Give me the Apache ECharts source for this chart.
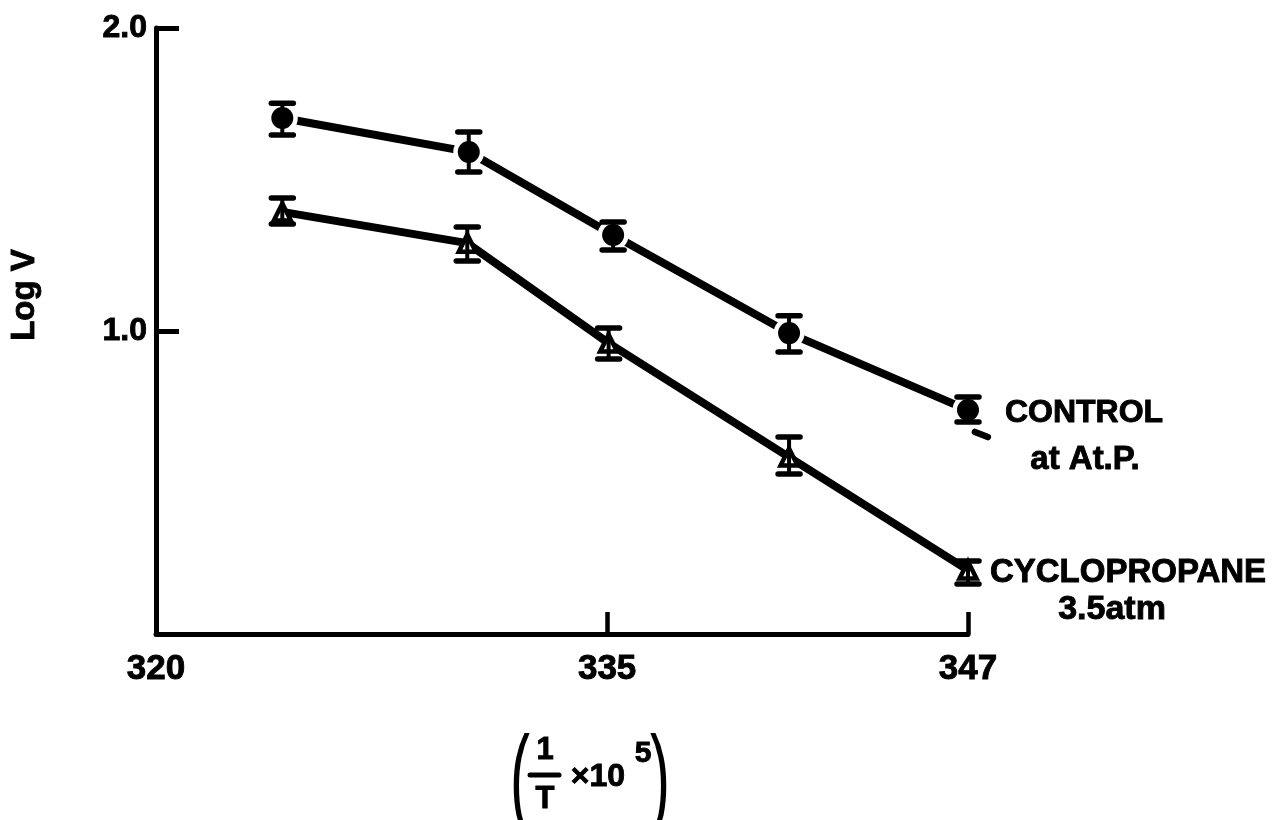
<!DOCTYPE html>
<html>
<head>
<meta charset="utf-8">
<script src="https://cdn.jsdelivr.net/npm/echarts@6/dist/echarts.min.js"></script>
<style>
html,body{margin:0;padding:0;background:#fff;}
#chart{width:1278px;height:820px;}
</style>
</head>
<body>
<div id="chart"></div>
<script>
// ---- data ----
const xTickLabels = [320, 335, 347];
const yTickLabels = [1.0, 2.0];

const controlX    = [324.2, 330.4, 335.2, 341.05, 347.0];
const controlLogV = [1.703, 1.591, 1.317, 0.993, 0.739];
const controlLow  = [1.647, 1.525, 1.267, 0.931, 0.700];
const controlHigh = [1.752, 1.657, 1.360, 1.050, 0.782];

const cycloX    = [324.2, 330.35, 335.05, 341.05, 347.0];
const cycloLogV = [1.393, 1.290, 0.960, 0.584, 0.211];
const cycloLow  = [1.353, 1.231, 0.908, 0.528, 0.165];
const cycloHigh = [1.439, 1.343, 1.010, 0.650, 0.241];

// short stray dash below the last control point
const controlTailX = [347.23, 347.66];
const controlTailY = [0.667, 0.650];

const FONT = "'Liberation Sans', Arial, sans-serif";

function pairs(xs, ys) { return xs.map((x, i) => [x, ys[i]]); }
function errData(xs, lo, hi) { return xs.map((x, i) => [x, lo[i], hi[i]]); }

function renderErr(params, api) {
  const x = api.value(0);
  const p1 = api.coord([x, api.value(1)]);
  const p2 = api.coord([x, api.value(2)]);
  const hw = 11;
  const st = {stroke: '#000', lineWidth: 4, lineCap: 'round'};
  const cs = {stroke: '#000', lineWidth: 5.5, lineCap: 'round'};
  return {
    type: 'group',
    children: [
      {type: 'line', shape: {x1: p1[0], y1: p1[1], x2: p2[0], y2: p2[1]}, style: st},
      {type: 'line', shape: {x1: p1[0] - hw, y1: p1[1], x2: p1[0] + hw, y2: p1[1]}, style: cs},
      {type: 'line', shape: {x1: p2[0] - hw, y1: p2[1], x2: p2[0] + hw, y2: p2[1]}, style: cs}
    ]
  };
}

function renderSeg(params, api) {
  if (params.dataIndex !== 0) return null;
  const a = api.coord([controlTailX[0], controlTailY[0]]);
  const b = api.coord([controlTailX[1], controlTailY[1]]);
  return {type: 'line', shape: {x1: a[0], y1: a[1], x2: b[0], y2: b[1]},
          style: {stroke: '#000', lineWidth: 6.5, lineCap: 'round'}};
}

const chart = echarts.init(document.getElementById('chart'), null, {renderer: 'canvas'});

const txt = (x, y, text, size, extra) => Object.assign({type: 'text', x: x, y: y,
  style: {text: text, font: 'bold ' + size + 'px ' + FONT, fill: '#000', stroke: '#000', lineWidth: 0.9,
          align: 'center', verticalAlign: 'middle'}}, extra || {});

const option = {
  backgroundColor: '#fff',
  animation: false,
  grid: {left: 156, right: 310, top: 28, bottom: 186, containLabel: false},
  xAxis: {
    type: 'value', min: 320, max: 347,
    axisLine: {show: true, lineStyle: {color: '#000', width: 5}},
    axisTick: {show: true, inside: true, length: 22, customValues: [335, 347],
               lineStyle: {color: '#000', width: 4.5}},
    axisLabel: {customValues: xTickLabels, margin: 18, color: '#000',
                fontFamily: FONT, fontWeight: 'bold', fontSize: 35,
                textBorderColor: '#000', textBorderWidth: 0.9,
                formatter: v => String(v)},
    splitLine: {show: false}
  },
  yAxis: {
    type: 'value', min: 0, max: 2,
    axisLine: {show: true, lineStyle: {color: '#000', width: 5}},
    axisTick: {show: true, inside: true, length: 23, customValues: yTickLabels,
               lineStyle: {color: '#000', width: 5}},
    axisLabel: {customValues: yTickLabels, margin: 9, color: '#000',
                fontFamily: FONT, fontWeight: 'bold', fontSize: 32,
                textBorderColor: '#000', textBorderWidth: 0.9,
                formatter: v => v.toFixed(1)},
    splitLine: {show: false}
  },
  series: [
    {type: 'line', name: 'CONTROL', data: pairs(controlX, controlLogV), showSymbol: false,
     clip: false, z: 2, lineStyle: {color: '#000', width: 8, cap: 'round', opacity: 1}},
    {type: 'line', name: 'CYCLOPROPANE', data: pairs(cycloX, cycloLogV), showSymbol: false,
     clip: false, z: 2, lineStyle: {color: '#000', width: 8, cap: 'round', opacity: 1}},
    {type: 'custom', name: 'tail', data: [[controlTailX[0], controlTailY[0]]],
     renderItem: renderSeg, clip: false, z: 2, encode: {x: 0, y: 1}},
    {type: 'scatter', name: 'halo', data: pairs(controlX, controlLogV), symbol: 'circle',
     symbolSize: 31, clip: false, z: 3, itemStyle: {color: '#fff', opacity: 1}},
    {type: 'scatter', name: 'controlPts', data: pairs(controlX, controlLogV), symbol: 'circle',
     symbolSize: 22, clip: false, z: 4, itemStyle: {color: '#000', opacity: 1}},
    {type: 'scatter', name: 'cycloPts', data: pairs(cycloX, cycloLogV), symbol: 'triangle',
     symbolSize: 17, clip: false, z: 4,
     itemStyle: {color: '#fff', borderColor: '#000', borderWidth: 4.5, opacity: 1}},
    {type: 'custom', name: 'controlErr', data: errData(controlX, controlLow, controlHigh),
     renderItem: renderErr, clip: false, z: 5, encode: {x: 0, y: [1, 2]}},
    {type: 'custom', name: 'cycloErr', data: errData(cycloX, cycloLow, cycloHigh),
     renderItem: renderErr, clip: false, z: 5, encode: {x: 0, y: [1, 2]}}
  ],
  graphic: [
    txt(25, 295, 'Log V', 33, {rotation: Math.PI / 2}),
    txt(1084, 413, 'CONTROL', 32),
    txt(1085, 460, 'at At.P.', 33),
    txt(1128, 573, 'CYCLOPROPANE', 33),
    txt(1112, 610, '3.5atm', 34),
    // x-axis name: (1/T x10^5)
    {type: 'text', x: 520, y: 784, scaleY: 1.9,
     style: {text: '(', font: '60px ' + FONT, fill: '#000', align: 'center', verticalAlign: 'middle'}},
    txt(545, 750, '1', 31),
    {type: 'line', shape: {x1: 530, y1: 775, x2: 559, y2: 775},
     style: {stroke: '#000', lineWidth: 5, lineCap: 'round'}},
    txt(545, 799, 'T', 31),
    txt(598, 777, '×10', 32),
    txt(643, 754, '5', 30),
    {type: 'text', x: 660, y: 784, scaleY: 1.9,
     style: {text: ')', font: '60px ' + FONT, fill: '#000', align: 'center', verticalAlign: 'middle'}}
  ]
};
chart.setOption(option);
</script>
</body>
</html>
